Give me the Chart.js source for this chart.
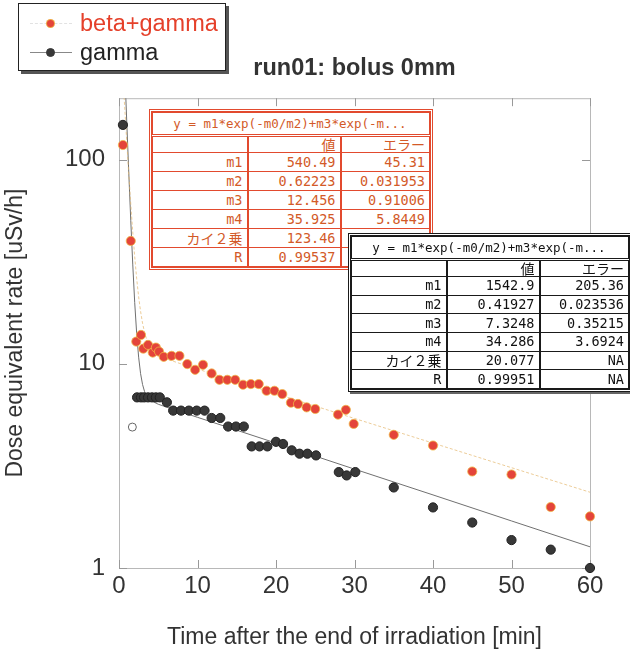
<!DOCTYPE html>
<html>
<head>
<meta charset="utf-8">
<script src="https://cdn.jsdelivr.net/npm/chart.js@4/dist/chart.umd.min.js"></script>
<style>
  html, body { margin: 0; padding: 0; background: #fff; overflow: hidden; }
  #wrap { position: relative; width: 630px; height: 655px; overflow: hidden; }
  #c { position: absolute; left: 0; top: 0; }
  #legend {
    position: absolute; left: 18px; top: 3px; width: 208px; height: 68px;
    box-sizing: border-box; border: 1.5px solid #222; background: #fff;
    box-shadow: 3px 3px 0 #555;
    font-family: "Liberation Sans", Arial, sans-serif; font-size: 23.5px;
  }
  .lg-row { position: absolute; left: 0; height: 28px; width: 100%; }
  .lg-line { position: absolute; left: 11px; width: 42px; top: 13px; height: 0; }
  .lg-dot { position: absolute; left: 27px; top: 9px; width: 9px; height: 9px; border-radius: 50%; box-sizing: border-box; }
  .lg-text { position: absolute; left: 61px; top: -1px; line-height: 28px; }
  .ftab {
    position: absolute; box-sizing: border-box; background: #fff;
    font-family: "DejaVu Sans Mono", "Noto Sans CJK JP", monospace; font-size: 13.5px;
  }
  .ftab table { border-collapse: collapse; width: 100%; height: 100%; table-layout: fixed; }
  .ftab td { padding: 0 4px 0 2px; text-align: right; white-space: nowrap; overflow: hidden; line-height: 15px; }
  .ftab td.eq { text-align: center; font-size: 12.5px; }
  .ftab td.jp { font-family: "Noto Sans CJK JP", sans-serif; font-size: 14px; line-height: 15px; }
  #tabRed { left: 149px; top: 109px; width: 284px; height: 161px; border: 3px double #e24a2e; color: #d35a28; }
  #tabRed td { border: 1.3px solid #e24a2e; }
  #tabRed tr.t td { border-bottom: 3px double #e24a2e; }
  #tabBlack { left: 348px; top: 233px; width: 284px; height: 159px; border: 3px double #1a1a1a; color: #111; box-shadow: 2px 2px 0 #666; }
  #tabBlack td { border: 1.3px solid #1a1a1a; }
  #tabBlack tr.t td { border-bottom: 3px double #1a1a1a; }
  .ftab td.lab { border-right-width: 2.5px !important; }
  .ftab td.val { border-right-width: 2.5px !important; }
</style>
</head>
<body>
<div id="wrap">
  <canvas id="c" width="630" height="655"></canvas>
  <div id="legend"></div>
  <div id="tabRed" class="ftab"></div>
  <div id="tabBlack" class="ftab"></div>
</div>
<script>
// ---------- data ----------
const chartTitle = 'run01: bolus 0mm';
const xAxisTitle = 'Time after the end of irradiation [min]';
const yAxisTitle = 'Dose equivalent rate [uSv/h]';
const seriesNames = ['beta+gamma', 'gamma'];

const xTicks = [0, 10, 20, 30, 40, 50, 60];
const yTicks = [1, 10, 100];

const betaGammaTime = [0.5, 1.5, 2.2, 2.8, 3.1, 3.7, 4.3, 4.7, 5.1, 5.7,
  6.7, 7.7, 8.7, 9.7, 10.7, 11.8, 12.8, 13.8, 14.8,
  15.8, 16.8, 17.8, 18.8, 19.8, 20.8, 21.9, 22.8, 23.9, 25.0,
  27.9, 28.9, 29.9, 35, 40, 45, 50, 55, 60];
const betaGammaRate = [118, 40, 12.85, 13.85, 11.87, 12.38, 11.35, 12.01, 11.48, 10.82,
  10.94, 10.94, 9.97, 9.35, 9.89, 8.97, 8.35, 8.35, 8.35,
  7.9, 7.96, 7.96, 7.38, 7.38, 7.11, 6.45, 6.36, 6.12, 6.01,
  5.64, 5.95, 5.08, 4.49, 3.98, 2.97, 2.87, 1.99, 1.79];

const gammaTime = [0.5, 2.3, 2.8, 3.2, 3.7, 4.2, 4.7, 5.2, 6.1,
  6.9, 7.9, 8.9, 9.9, 10.9, 11.8, 12.9, 13.9, 14.9, 15.9,
  16.9, 17.9, 18.9, 20.0, 20.9, 22.0, 23.0, 24.0, 25.1,
  28.0, 29.0, 30.1, 35, 40, 45, 50, 55, 60];
const gammaRate = [148, 6.85, 6.85, 6.85, 6.85, 6.85, 6.85, 6.85, 6.48,
  5.9, 5.9, 5.9, 5.9, 5.9, 5.43, 5.43, 4.93, 4.93, 4.93,
  3.94, 3.94, 3.94, 4.15, 4.05, 3.77, 3.63, 3.63, 3.56,
  2.95, 2.84, 2.95, 2.48, 1.98, 1.67, 1.37, 1.23, 1.0];

const excludedTime = [1.7];
const excludedRate = [4.9];

const fitTime = [0.5, 0.75, 1, 1.25, 1.5, 1.75, 2, 2.25, 2.5, 2.75, 3, 3.25, 3.5, 4, 5, 6, 8, 10, 15, 20, 30, 40, 50, 60];
const betaGammaFit = [254.3, 174.1, 120.5, 84.5, 60.5, 44.3, 33.5, 26.2, 21.3, 18.05, 15.8, 14.29, 13.25, 12.0, 11.01, 10.58, 9.97, 9.43, 8.20, 7.14, 5.40, 4.09, 3.10, 2.35];
const gammaFit = [475, 265, 149, 85.4, 50.2, 30.8, 20.0, 14.1, 10.78, 8.95, 7.92, 7.33, 6.98, 6.63, 6.34, 6.15, 5.80, 5.47, 4.73, 4.09, 3.05, 2.28, 1.70, 1.27];

const fitEquation = 'y = m1*exp(-m0/m2)+m3*exp(-m...';
const tableHeader = ['', '値', 'エラー'];
const paramNames = ['m1', 'm2', 'm3', 'm4', 'カイ２乗', 'R'];
const betaGammaValues = ['540.49', '0.62223', '12.456', '35.925', '123.46', '0.99537'];
const betaGammaErrors = ['45.31', '0.031953', '0.91006', '5.8449', 'NA', 'NA'];
const gammaValues = ['1542.9', '0.41927', '7.3248', '34.286', '20.077', '0.99951'];
const gammaErrors = ['205.36', '0.023536', '0.35215', '3.6924', 'NA', 'NA'];

// ---------- styles ----------
const RED = '#e4443a', RED_EDGE = 'rgba(240,185,70,0.85)', DARK = '#383838';
const TXT = '#333';
const FONT = '"Liberation Sans", Arial, sans-serif';

const pts = (xs, ys) => xs.map((x, i) => ({ x: x, y: ys[i] }));
const isJP = s => /[^\x00-\x7f]/.test(s);

// ---------- tables ----------
function buildTable(el, values, errors) {
  const cell = (cls, s) => '<td class="' + cls + (isJP(s) ? ' jp' : '') + '">' + s + '</td>';
  let h = '<table><colgroup><col style="width:95px"><col style="width:93px"><col></colgroup>';
  h += '<tr class="t" style="height:23px"><td class="eq" colspan="3">' + fitEquation + '</td></tr>';
  h += '<tr style="height:17px">' + cell('lab', tableHeader[0]) + cell('val', tableHeader[1]) + cell('err', tableHeader[2]) + '</tr>';
  paramNames.forEach((p, i) => {
    h += '<tr>' + cell('lab', p) + cell('val', values[i]) + cell('err', errors[i]) + '</tr>';
  });
  h += '</table>';
  el.innerHTML = h;
}
buildTable(document.getElementById('tabRed'), betaGammaValues, betaGammaErrors);
buildTable(document.getElementById('tabBlack'), gammaValues, gammaErrors);

// ---------- legend ----------
(function () {
  const lg = document.getElementById('legend');
  const specs = [
    { color: '#e5402a', dot: RED, edge: RED_EDGE, line: '1px dashed #e2e2e2', top: 6 },
    { color: '#222', dot: DARK, edge: DARK, line: '1px solid #888', top: 35 }
  ];
  seriesNames.forEach((name, i) => {
    const s = specs[i];
    const row = document.createElement('div');
    row.className = 'lg-row';
    row.style.top = s.top + 'px';
    row.innerHTML = '<div class="lg-line" style="border-top:' + s.line + '"></div>' +
      '<div class="lg-dot" style="background:' + s.dot + ';border:1px solid ' + s.edge + '"></div>' +
      '<div class="lg-text" style="color:' + s.color + '">' + name + '</div>';
    lg.appendChild(row);
  });
})();

// ---------- frame plugin (box with inward ticks) ----------
const framePlugin = {
  id: 'frame',
  beforeDatasetsDraw(chart) {
    const { ctx, chartArea: a, scales } = chart;
    ctx.save();
    ctx.strokeStyle = '#b8b8b8';
    ctx.lineWidth = 1;
    ctx.strokeRect(a.left + 0.5, a.top + 0.5, a.right - a.left, a.bottom - a.top);
    ctx.strokeStyle = '#999';
    const L = 8;
    ctx.beginPath();
    xTicks.forEach(v => {
      const px = Math.round(scales.x.getPixelForValue(v)) + 0.5;
      ctx.moveTo(px, a.bottom); ctx.lineTo(px, a.bottom - L);
      ctx.moveTo(px, a.top); ctx.lineTo(px, a.top + L);
    });
    yTicks.forEach(v => {
      const py = Math.round(scales.y.getPixelForValue(v)) + 0.5;
      ctx.moveTo(a.left, py); ctx.lineTo(a.left + L, py);
      ctx.moveTo(a.right, py); ctx.lineTo(a.right - L, py);
    });
    ctx.stroke();
    ctx.restore();
  }
};

// ---------- chart ----------
new Chart(document.getElementById('c'), {
  type: 'scatter',
  data: {
    datasets: [
      {
        label: seriesNames[0], data: pts(betaGammaTime, betaGammaRate),
        backgroundColor: RED, borderColor: RED_EDGE, borderWidth: 0.9, pointRadius: 4.6,
        showLine: false, order: 0, clip: false
      },
      {
        label: seriesNames[1], data: pts(gammaTime, gammaRate),
        backgroundColor: DARK, borderColor: '#222', borderWidth: 1, pointRadius: 4.6,
        showLine: false, order: 0, clip: false
      },
      {
        label: 'excluded', data: pts(excludedTime, excludedRate),
        backgroundColor: '#fff', borderColor: '#666', borderWidth: 1, pointRadius: 4,
        showLine: false, order: 0
      },
      {
        label: 'fit ' + seriesNames[0], data: pts(fitTime, betaGammaFit),
        showLine: true, pointRadius: 0, borderColor: 'rgba(228,182,110,0.7)', borderWidth: 1,
        borderDash: [3, 2], tension: 0, order: 1
      },
      {
        label: 'fit ' + seriesNames[1], data: pts(fitTime, gammaFit),
        showLine: true, pointRadius: 0, borderColor: '#707070', borderWidth: 1,
        tension: 0, order: 1
      }
    ]
  },
  options: {
    responsive: false,
    animation: false,
    devicePixelRatio: 1,
    layout: { padding: { left: 0, right: 40, top: 0, bottom: 0 } },
    plugins: {
      legend: { display: false },
      tooltip: { enabled: false },
      title: {
        display: true, text: chartTitle, fullSize: false, color: TXT,
        font: { family: FONT, size: 23.5, weight: 'bold' },
        padding: { top: 54, bottom: 16 }
      }
    },
    scales: {
      x: {
        type: 'linear', position: 'bottom', min: 0, max: 60,
        afterBuildTicks: s => { s.ticks = xTicks.map(v => ({ value: v })); },
        afterFit: s => { s.height = 87; },
        ticks: { color: TXT, font: { family: FONT, size: 24 }, padding: 4, maxRotation: 0 },
        grid: { drawOnChartArea: false, drawTicks: false },
        border: { display: false },
        title: { display: true, text: xAxisTitle, color: TXT, font: { family: FONT, size: 23 }, padding: { top: 0, bottom: 4 } }
      },
      y: {
        type: 'logarithmic', min: 1, max: 200,
        afterBuildTicks: s => { s.ticks = yTicks.map(v => ({ value: v })); },
        afterFit: s => { s.width = 119; },
        ticks: { color: TXT, font: { family: FONT, size: 24 }, padding: 14, callback: v => String(v) },
        grid: { drawOnChartArea: false, drawTicks: false },
        border: { display: false },
        title: { display: true, text: yAxisTitle, color: TXT, font: { family: FONT, size: 23 }, padding: { top: 2, bottom: 0 } }
      }
    }
  },
  plugins: [framePlugin]
});
</script>
</body>
</html>
